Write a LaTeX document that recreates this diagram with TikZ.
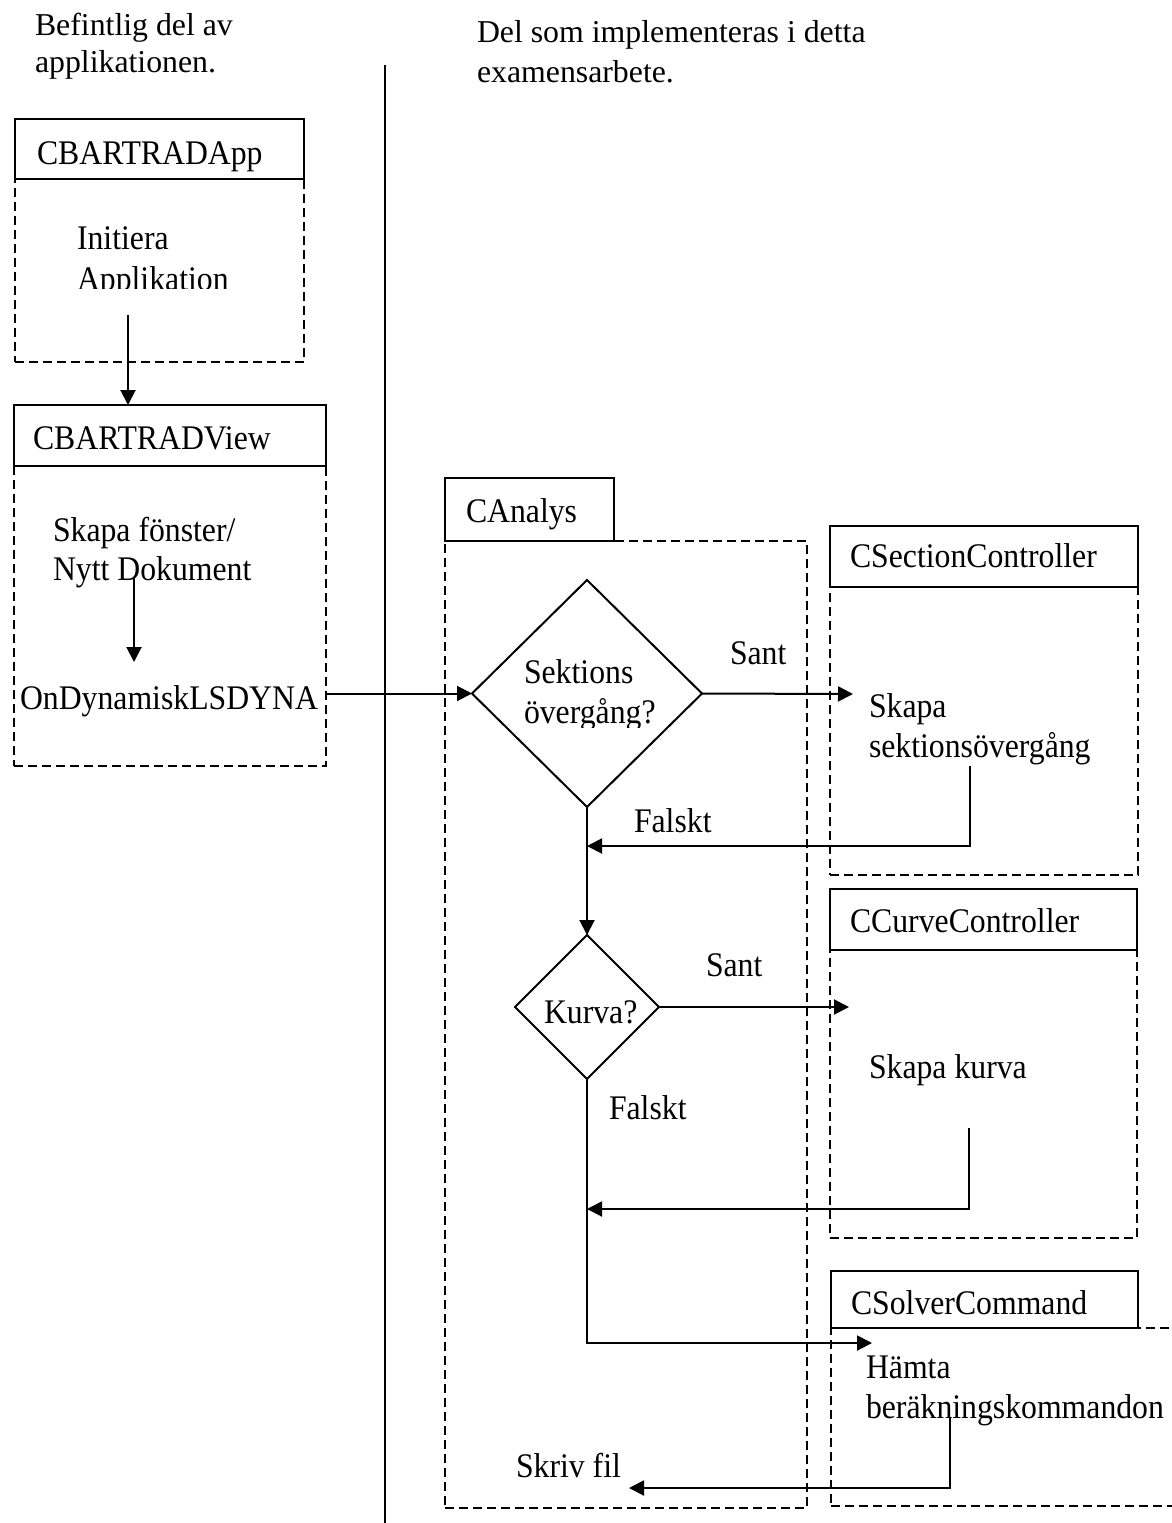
\documentclass[tikz,border=0pt]{standalone}
\usepackage{fontspec}
\setmainfont{Liberation Serif}
\newfontfamily\boxfont{Liberation Serif}[FakeStretch=0.92]
\usetikzlibrary{arrows.meta,shapes.geometric}

\tikzset{
  lbl/.style={anchor=base west, inner sep=0pt, outer sep=0pt,
    font=\boxfont\fontsize{34.5pt}{40pt}\selectfont},
  hdr/.style={anchor=base west, inner sep=0pt, outer sep=0pt,
    font=\fontsize{31.8pt}{40pt}\selectfont},
  titlebox/.style={draw, line width=2pt, fill=white, inner sep=0pt, outer sep=0pt, anchor=north west},
  bodybox/.style={draw, line width=2pt, dash pattern=on 9pt off 5pt, inner sep=0pt, outer sep=0pt, anchor=north west},
  decision/.style={draw, diamond, line width=2pt, inner sep=0pt, outer sep=0pt},
  flow/.style={line width=2pt, -{Triangle[length=15pt,width=15pt]}},
  divider/.style={line width=2pt}
}

\begin{document}
\begin{tikzpicture}[x=1pt, y=-1pt]
\clip (0,0) rectangle (1172,1523);
\useasboundingbox (0,0) rectangle (1172,1523);

% column headings and the dividing line
\node[hdr] (hl1) at (35,35) {Befintlig del av};
\node[hdr] (hl2) at (35,72) {applikationen.};
\node[hdr] (hr1) at (477,42) {Del som implementeras i detta};
\node[hdr] (hr2) at (477,82) {examensarbete.};
\coordinate (divtop) at (385,65);
\coordinate (divbot) at (385,1523);
\draw[divider] (divtop) -- (divbot);

% CBARTRADApp
\node[bodybox, minimum width=289pt, minimum height=183pt] (appb) at (15,179) {};
\node[titlebox, minimum width=289pt, minimum height=60pt] (appt) at (15,119) {};
\node[lbl] (appname) at (37,164) {CBARTRADApp};
\node[lbl] (appi1) at (77,249) {Initiera};
\begin{scope}
  \clip (15,255) rectangle (304,288);
  \node[lbl] (appi2) at (77,290) {Applikation};
\end{scope}

% CBARTRADView
\node[bodybox, minimum width=312pt, minimum height=300pt] (viewb) at (14,466) {};
\node[titlebox, minimum width=312pt, minimum height=61pt] (viewt) at (14,405) {};
\node[lbl] (viewname) at (33,449) {CBARTRADView};
\node[lbl] (view1) at (53,541) {Skapa fönster/};
\node[lbl] (view2) at (53,580) {Nytt Dokument};
\node[lbl] (ondyn) at (20,709) {OnDynamiskLSDYNA};

\coordinate (appout) at (128,315);
\draw[flow] (appout) -- (appout |- viewt.north);
\coordinate (viewa) at (134,578);
\coordinate (viewc) at (134,662);
\draw[flow] (viewa) -- (viewc);

% CAnalys
\node[bodybox, minimum width=362pt, minimum height=967pt] (anab) at (445,541) {};
\node[titlebox, minimum width=169pt, minimum height=63pt] (anat) at (445,478) {};
\node[lbl] (ananame) at (466,522) {CAnalys};

\node[decision, minimum width=230pt, minimum height=227pt] (d1) at (587,693.5) {};
\node[lbl] (d1a) at (524,683) {Sektions};
\begin{scope}
  \clip (500,690) rectangle (680,727);
  \node[lbl] (d1b) at (524,723) {övergång?};
\end{scope}

\node[decision, minimum width=144pt, minimum height=144pt] (d2) at (587,1007) {};
\node[lbl] (d2a) at (544,1023) {Kurva?};

\node[lbl] (sant1) at (730,664) {Sant};
\node[lbl] (falskt1) at (634,832) {Falskt};
\node[lbl] (sant2) at (706,976) {Sant};
\node[lbl] (falskt2) at (609,1119) {Falskt};
\node[lbl] (skriv) at (516,1477) {Skriv fil};

\draw[flow] (viewb.east |- d1.west) -- (d1.west);
\draw[flow] (d1.south) -- (d2.north);

% CSectionController
\node[bodybox, minimum width=308pt, minimum height=288pt] (secb) at (830,587) {};
\node[titlebox, minimum width=308pt, minimum height=61pt] (sect) at (830,526) {};
\node[lbl] (secname) at (850,567) {CSectionController};
\node[lbl] (sec1) at (869,717) {Skapa};
\node[lbl] (sec2) at (869,757) {sektionsövergång};

\coordinate (secin) at (853,694);
\draw[flow] (d1.east) -- (secin);
\coordinate (secback) at (970,766);
\coordinate (merge1) at (587,846);
\draw[flow] (secback) |- (merge1);

% CCurveController
\node[bodybox, minimum width=307pt, minimum height=288pt] (curb) at (830,950) {};
\node[titlebox, minimum width=307pt, minimum height=61pt] (curt) at (830,889) {};
\node[lbl] (curname) at (850,932) {CCurveController};
\node[lbl] (cur1) at (869,1078) {Skapa kurva};

\coordinate (curin) at (849,1007);
\draw[flow] (d2.east) -- (curin);
\coordinate (curback) at (969,1128);
\coordinate (merge2) at (587,1209);
\draw[flow] (curback) |- (merge2);

% CSolverCommand
\node[bodybox, minimum width=360pt, minimum height=178pt] (solb) at (831,1328) {};
\node[titlebox, minimum width=307pt, minimum height=57pt] (solt) at (831,1271) {};
\node[lbl] (solname) at (851,1314) {CSolverCommand};
\node[lbl] (sol1) at (866,1378) {Hämta};
\node[lbl] (sol2) at (866,1418) {beräkningskommandon};

\coordinate (solin) at (872,1343);
\draw[flow] (d2.south) |- (solin);
\coordinate (solback) at (950,1417);
\coordinate (writein) at (629,1488);
\draw[flow] (solback) |- (writein);
\end{tikzpicture}
\end{document}
